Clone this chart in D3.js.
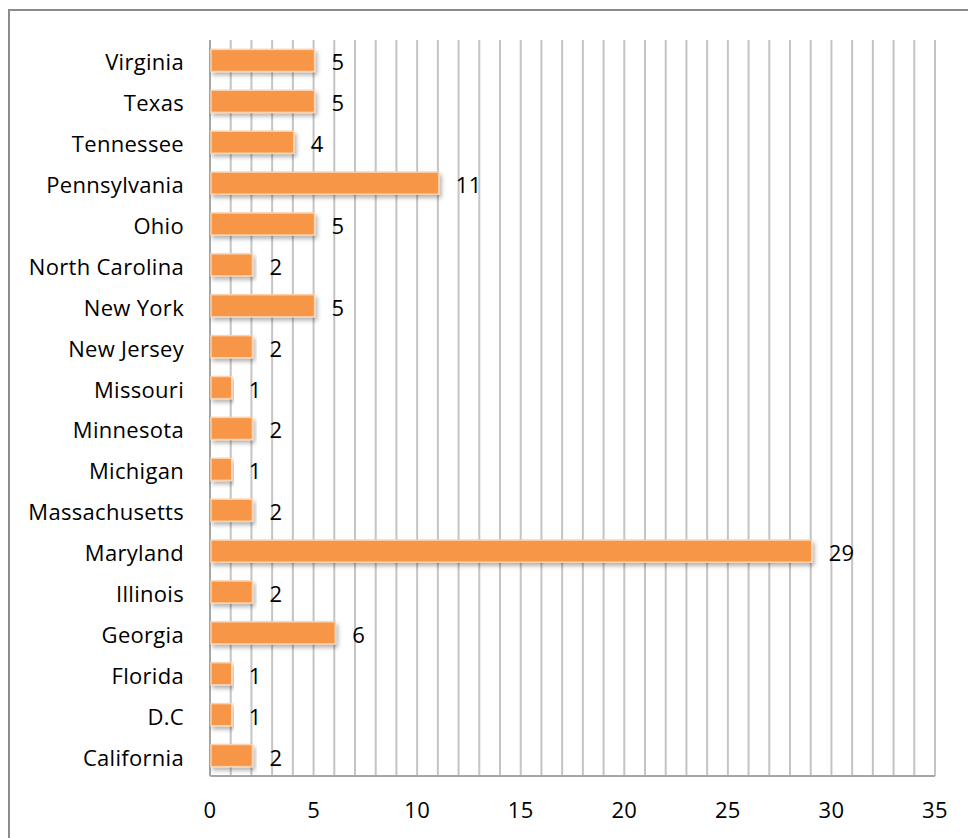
<!DOCTYPE html>
<html>
<head>
<meta charset="utf-8">
<script src="https://cdn.jsdelivr.net/npm/d3@7"></script>
<style>
  body { margin: 0; background: #fff; }
  text { font-family: "Open Sans", Lato, sans-serif; fill: #000; letter-spacing: 0.3px; }
</style>
</head>
<body>
<div id="chart"></div>
<script>
// Data, bottom to top as in the sheet
var states = ['California', 'D.C', 'Florida', 'Georgia', 'Illinois', 'Maryland', 'Massachusetts',
  'Michigan', 'Minnesota', 'Missouri', 'New Jersey', 'New York', 'North Carolina', 'Ohio',
  'Pennsylvania', 'Tennessee', 'Texas', 'Virginia'];
var counts = [2, 1, 1, 6, 2, 29, 2, 1, 2, 1, 2, 5, 2, 5, 11, 4, 5, 5];
var xTicks = [0, 5, 10, 15, 20, 25, 30, 35];

var width = 968, height = 838;
var margin = {top: 40, right: 33, bottom: 62, left: 210};

var svg = d3.select("#chart").append("svg")
  .attr("width", width)
  .attr("height", height);

// outer frame (right and bottom edges fall outside the picture)
svg.append("path")
  .attr("d", "M9,860 V10 H980")
  .attr("fill", "none")
  .attr("stroke", "#8c8c8c")
  .attr("stroke-width", 2);

var x = d3.scaleLinear().domain([0, 35]).range([margin.left, width - margin.right]);
var y = d3.scaleBand()
  .domain(states.slice().reverse())
  .range([margin.top, height - margin.bottom])
  .paddingInner(0.46).paddingOuter(0.23);

// gridlines every 1 unit
svg.append("g").selectAll("line")
  .data(d3.range(1, 36))
  .enter().append("line")
    .attr("x1", function(d) { return x(d); })
    .attr("x2", function(d) { return x(d); })
    .attr("y1", margin.top)
    .attr("y2", height - margin.bottom)
    .attr("stroke", "#c4c4c4")
    .attr("stroke-width", 2);

// axis lines
svg.append("line")
  .attr("x1", x(0)).attr("x2", x(0))
  .attr("y1", margin.top).attr("y2", height - margin.bottom)
  .attr("stroke", "#a6a6a6").attr("stroke-width", 2);
svg.append("line")
  .attr("x1", x(0)).attr("x2", x(35))
  .attr("y1", height - margin.bottom).attr("y2", height - margin.bottom)
  .attr("stroke", "#a6a6a6").attr("stroke-width", 2);

// shadow filter
var defs = svg.append("defs");
var f = defs.append("filter").attr("id", "shadow")
  .attr("x", "-5%").attr("y", "-30%").attr("width", "115%").attr("height", "180%");
f.append("feDropShadow")
  .attr("dx", 2).attr("dy", 3).attr("stdDeviation", 2)
  .attr("flood-color", "#000").attr("flood-opacity", 0.3);

var rows = states.map(function(s, i) { return {state: s, value: counts[i]}; });

svg.append("g").selectAll("rect")
  .data(rows)
  .enter().append("rect")
    .attr("x", x(0) + 1)
    .attr("y", function(d) { return y(d.state); })
    .attr("width", function(d) { return x(d.value) - x(0); })
    .attr("height", y.bandwidth())
    .attr("fill", "#f79646")
    .attr("stroke", "#fbd2b0")
    .attr("stroke-width", 1.5)
    .attr("filter", "url(#shadow)");

// value labels
svg.append("g").selectAll("text")
  .data(rows)
  .enter().append("text")
    .attr("x", function(d) { return x(d.value) + 18; })
    .attr("y", function(d) { return y(d.state) + y.bandwidth() / 2 + 10; })
    .style("font-size", "22px")
    .text(function(d) { return d.value; });

// category labels
svg.append("g").selectAll("text")
  .data(states)
  .enter().append("text")
    .attr("x", margin.left - 26)
    .attr("y", function(d) { return y(d) + y.bandwidth() / 2 + 10; })
    .attr("text-anchor", "end")
    .style("font-size", "22px")
    .text(function(d) { return d; });

// x tick labels
svg.append("g").selectAll("text")
  .data(xTicks)
  .enter().append("text")
    .attr("x", function(d) { return x(d); })
    .attr("y", 818)
    .attr("text-anchor", "middle")
    .style("font-size", "22px")
    .text(function(d) { return d; });
</script>
</body>
</html>
